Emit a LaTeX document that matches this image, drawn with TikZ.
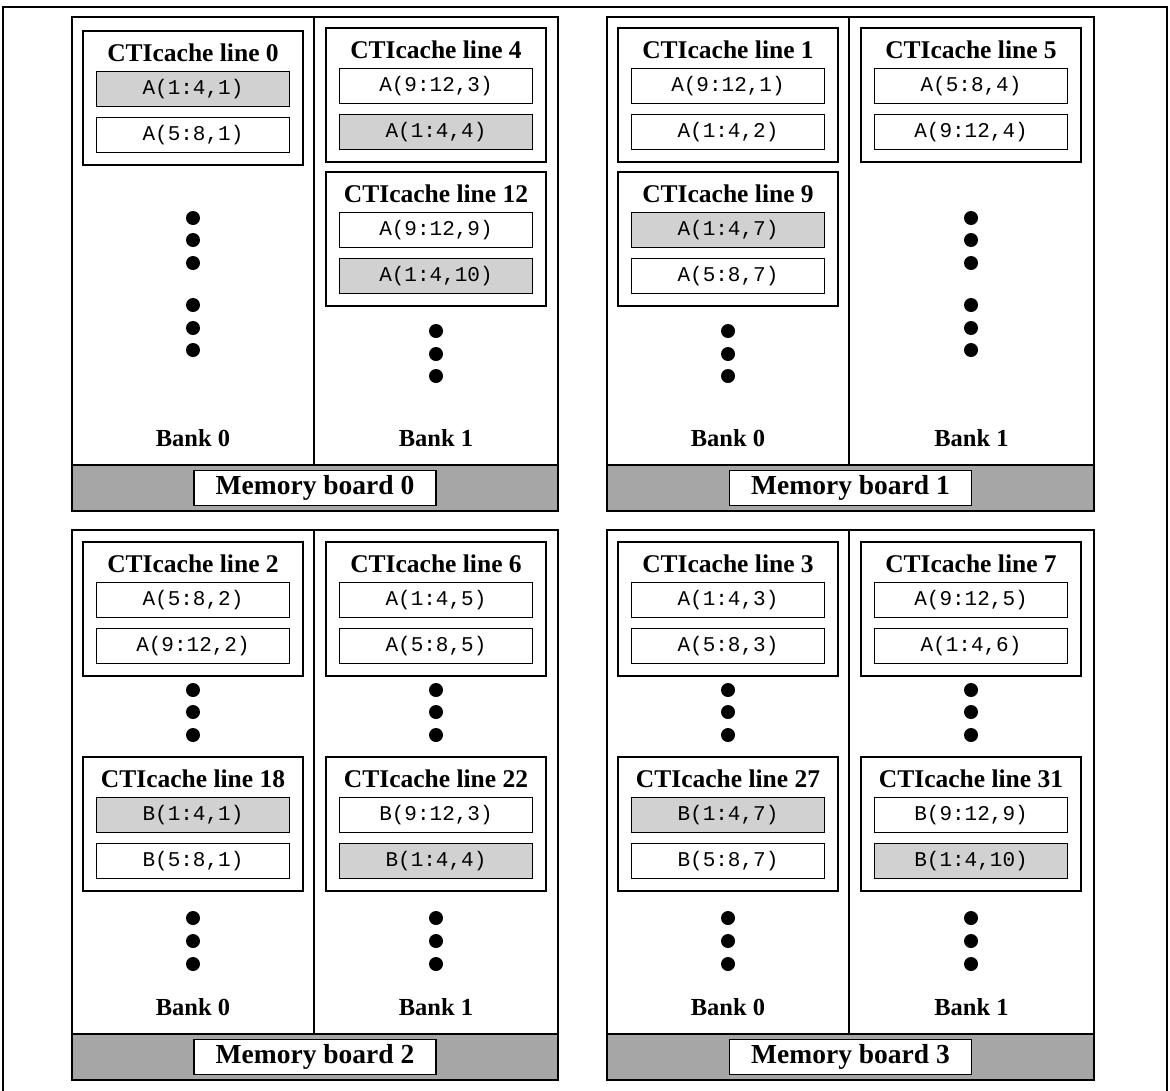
\documentclass[tikz,border=0pt]{standalone}
\usepackage{fontspec}
\setmainfont{Liberation Serif}
\setmonofont{Liberation Mono}
\usepackage{xcolor}
\usepackage{tikz}
\usetikzlibrary{calc,positioning}

\definecolor{hitgray}{gray}{0.82}
\definecolor{bargray}{gray}{0.65}

\tikzset{
    boardline/.style={line width=1.8pt},
    cachebox/.style={draw, line width=1.6pt, minimum width=220pt,
        minimum height=134pt, inner sep=0pt},
    entrybox/.style={draw, line width=1.4pt, minimum width=193pt,
        minimum height=35pt, inner sep=0pt,
        font=\fontsize{21}{23}\selectfont\ttfamily},
    hit/.style={fill=hitgray},
    cachetitle/.style={inner sep=0pt, font=\fontsize{25.5}{28}\selectfont\bfseries},
    banklabel/.style={inner sep=0pt, font=\fontsize{24.5}{27}\selectfont\bfseries},
    boardlabel/.style={draw, fill=white, line width=1.4pt, minimum width=242pt,
        minimum height=35pt, inner sep=0pt,
        font=\fontsize{27.5}{30}\selectfont\bfseries},
}

% one CTIcache line: name, x, top, number, entry 1, style 1, entry 2, style 2
\newcommand{\ctiline}[8]{
    \node[cachebox] (#1) at (#2,#3+67) {};
    \node[cachetitle] (#1t) at (#2,#3+22) {CTIcache line #4};
    \node[entrybox,#6] (#1a) at (#2,#3+58) {#5};
    \node[entrybox,#8] (#1b) at (#2,#3+104) {#7};
}

% one memory board: name, left, middle, right, top, bar top, number
\newcommand{\memboard}[7]{
    \fill[bargray] (#2,#6) rectangle (#4,#6+46);
    \draw[boardline] (#2,#5) rectangle (#4,#6+46);
    \draw[boardline] (#2,#6) -- (#4,#6);
    \draw[boardline] (#3,#5) -- (#3,#6);
    \node[banklabel] (#1k0) at ({(#2+#3)/2},#6-27) {Bank 0};
    \node[banklabel] (#1k1) at ({(#3+#4)/2},#6-27) {Bank 1};
    \node[boardlabel] (#1m) at ({(#2+#4)/2},#6+23) {Memory board #7};
}

% column of dots
\newcommand{\dotcol}[2]{
    \foreach \y in {#2} {
        \fill (#1,\y) circle (7pt);
    }
}

\begin{document}
\begin{tikzpicture}[x=1pt,y=-1pt]

    \useasboundingbox (0,0) rectangle (1170,1090);

    % Frame
    \draw[line width=2.4pt] (3,1100) -- (3,7) -- (1167,7) -- (1167,1100);

    % Boards
    \memboard{mbz}{72}{314}{558}{17}{465}{0}
    \memboard{mbo}{607}{849}{1094}{17}{465}{1}
    \memboard{mbt}{72}{314}{558}{530}{1034}{2}
    \memboard{mbh}{607}{849}{1094}{530}{1034}{3}

    % Board 0
    \ctiline{cl0}{193}{31}{0}{A(1:4,1)}{hit}{A(5:8,1)}{}
    \ctiline{cl4}{436}{28}{4}{A(9:12,3)}{}{A(1:4,4)}{hit}
    \ctiline{cl12}{436}{172}{12}{A(9:12,9)}{}{A(1:4,10)}{hit}
    \dotcol{193}{218,240,263,305,328,350}
    \dotcol{436}{331,354,376}

    % Board 1
    \ctiline{cl1}{728}{28}{1}{A(9:12,1)}{}{A(1:4,2)}{}
    \ctiline{cl9}{728}{172}{9}{A(1:4,7)}{hit}{A(5:8,7)}{}
    \ctiline{cl5}{971}{28}{5}{A(5:8,4)}{}{A(9:12,4)}{}
    \dotcol{728}{331,354,376}
    \dotcol{971}{218,240,263,305,328,350}

    % Board 2
    \ctiline{cl2}{193}{542}{2}{A(5:8,2)}{}{A(9:12,2)}{}
    \ctiline{cl18}{193}{757}{18}{B(1:4,1)}{hit}{B(5:8,1)}{}
    \ctiline{cl6}{436}{542}{6}{A(1:4,5)}{}{A(5:8,5)}{}
    \ctiline{cl22}{436}{757}{22}{B(9:12,3)}{}{B(1:4,4)}{hit}
    \dotcol{193}{690,712,735,918,941,964}
    \dotcol{436}{690,712,735,918,941,964}

    % Board 3
    \ctiline{cl3}{728}{542}{3}{A(1:4,3)}{}{A(5:8,3)}{}
    \ctiline{cl27}{728}{757}{27}{B(1:4,7)}{hit}{B(5:8,7)}{}
    \ctiline{cl7}{971}{542}{7}{A(9:12,5)}{}{A(1:4,6)}{}
    \ctiline{cl31}{971}{757}{31}{B(9:12,9)}{}{B(1:4,10)}{hit}
    \dotcol{728}{690,712,735,918,941,964}
    \dotcol{971}{690,712,735,918,941,964}

\end{tikzpicture}
\end{document}
